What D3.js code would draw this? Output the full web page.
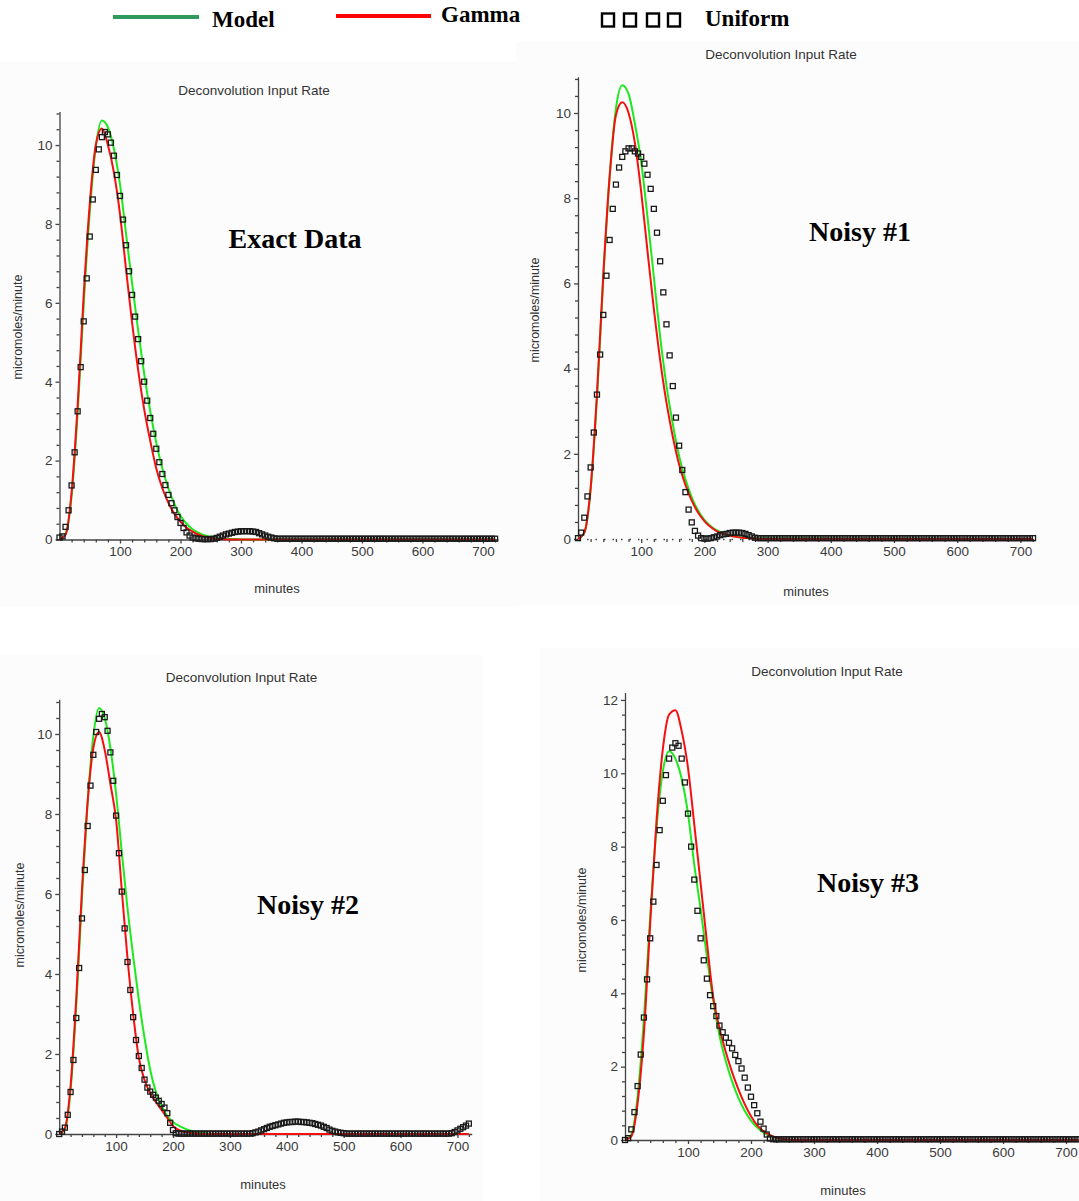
<!DOCTYPE html>
<html>
<head>
<meta charset="utf-8">
<script src="https://cdn.jsdelivr.net/npm/d3@7"></script>
<style>
  body { margin: 0; background: #fff; }
  .axis path, .axis line { stroke: #444; stroke-width: 1.3; }
  .axis text { font-family: "Liberation Sans", Arial, sans-serif; font-size: 13.5px; fill: #3a3a3a; }
  .title, .xlabel, .ylabel { font-family: "Liberation Sans", Arial, sans-serif; fill: #333; }
  .note, .legend text { font-family: "Liberation Serif", "Times New Roman", serif; font-weight: bold; fill: #000; }
</style>
</head>
<body>
<svg id="chart" width="1079" height="1201"></svg>
<script>
(function (d3) {
    'use strict';

    var lineMinutes = [0, 10, 20, 30, 40, 50, 60, 70, 80, 90, 100, 110, 120, 130, 140, 150,
        160, 170, 180, 190, 200, 210, 220, 230, 240, 250, 260, 270, 280, 290, 300, 720];

    // Uniform estimate is sampled every 5 minutes, 0..720.
    var uniformMinutes = d3.range(0, 721, 5);

    var xTickValues = [100, 200, 300, 400, 500, 600, 700];
    var yTicks10 = [0, 2, 4, 6, 8, 10];
    var yTicks12 = [0, 2, 4, 6, 8, 10, 12];

    // Exact data
    var exactModel = [0, 0.15, 1.1, 3.2, 5.95, 8.3, 9.95, 10.62, 10.45, 9.9, 9.0, 7.75, 6.5, 5.3, 4.2, 3.25,
        2.45, 1.8, 1.3, 0.9, 0.6, 0.4, 0.26, 0.17, 0.11, 0.07, 0.04, 0.02, 0.01, 0.01, 0, 0];
    var exactGamma = [0, 0.12, 1.2, 3.4, 6.2, 8.5, 10.0, 10.42, 10.0, 9.3, 8.25, 6.85, 5.5, 4.3, 3.3, 2.5,
        1.8, 1.3, 0.93, 0.65, 0.45, 0.3, 0.2, 0.12, 0.07, 0.04, 0.02, 0.01, 0, 0, 0, 0];
    var exactUniform = [
        0.05, 0.08, 0.32, 0.74, 1.37, 2.21, 3.25, 4.37, 5.53, 6.62, 7.68, 8.62,
        9.37, 9.89, 10.2, 10.33, 10.27, 10.06, 9.73, 9.24, 8.71, 8.11, 7.46, 6.8,
        6.2, 5.65, 5.08, 4.52, 4.0, 3.52, 3.08, 2.68, 2.3, 1.96, 1.66, 1.38,
        1.13, 0.92, 0.74, 0.57, 0.42, 0.29, 0.18, 0.1, 0.05, 0.03, 0.02, 0.01,
        0.01, 0.01, 0.01, 0.02, 0.04, 0.07, 0.1, 0.13, 0.15, 0.17, 0.19, 0.2,
        0.21, 0.21, 0.21, 0.21, 0.2, 0.19, 0.16, 0.13, 0.1, 0.07, 0.05, 0.03,
        0.02, 0.02, 0.02, 0.02, 0.02, 0.02, 0.02, 0.02, 0.02, 0.02, 0.02, 0.02,
        0.02, 0.02, 0.02, 0.02, 0.02, 0.02, 0.02, 0.02, 0.02, 0.02, 0.02, 0.02,
        0.02, 0.02, 0.02, 0.02, 0.02, 0.02, 0.02, 0.02, 0.02, 0.02, 0.02, 0.02,
        0.02, 0.02, 0.02, 0.02, 0.02, 0.02, 0.02, 0.02, 0.02, 0.02, 0.02, 0.02,
        0.02, 0.02, 0.02, 0.02, 0.02, 0.02, 0.02, 0.02, 0.02, 0.02, 0.02, 0.02,
        0.02, 0.02, 0.02, 0.02, 0.02, 0.02, 0.02, 0.02, 0.02, 0.02, 0.02, 0.02,
        0.02];

    // Noisy #1
    var noisy1Model = [0, 0.15, 1.15, 3.3, 6.1, 8.5, 10.1, 10.65, 10.45, 9.75, 8.85, 7.55, 6.15, 4.75, 3.6, 2.7,
        1.95, 1.4, 0.98, 0.67, 0.45, 0.3, 0.2, 0.13, 0.09, 0.06, 0.04, 0.03, 0.02, 0.01, 0.01, 0];
    var noisy1Gamma = [0, 0.15, 1.2, 3.4, 6.2, 8.5, 9.95, 10.25, 10.0, 9.3, 8.15, 6.75, 5.4, 4.2, 3.2, 2.4,
        1.75, 1.27, 0.9, 0.62, 0.42, 0.28, 0.18, 0.12, 0.08, 0.05, 0.03, 0.02, 0.01, 0, 0, 0];
    var noisy1Uniform = [
        0.02, 0.15, 0.5, 1.0, 1.68, 2.5, 3.39, 4.33, 5.26, 6.18, 7.02, 7.75,
        8.32, 8.72, 8.97, 9.1, 9.17, 9.17, 9.1, 9.05, 8.97, 8.81, 8.55, 8.22,
        7.75, 7.19, 6.52, 5.79, 5.04, 4.31, 3.59, 2.85, 2.19, 1.62, 1.1, 0.69,
        0.39, 0.19, 0.08, 0.02, 0.01, 0.01, 0.02, 0.04, 0.06, 0.09, 0.11, 0.12,
        0.14, 0.15, 0.15, 0.15, 0.14, 0.12, 0.09, 0.06, 0.03, 0.02, 0.02, 0.02,
        0.02, 0.02, 0.02, 0.02, 0.02, 0.02, 0.02, 0.02, 0.02, 0.02, 0.02, 0.02,
        0.02, 0.02, 0.02, 0.02, 0.02, 0.02, 0.02, 0.02, 0.02, 0.02, 0.02, 0.02,
        0.02, 0.02, 0.02, 0.02, 0.02, 0.02, 0.02, 0.02, 0.02, 0.02, 0.02, 0.02,
        0.02, 0.02, 0.02, 0.02, 0.02, 0.02, 0.02, 0.02, 0.02, 0.02, 0.02, 0.02,
        0.02, 0.02, 0.02, 0.02, 0.02, 0.02, 0.02, 0.02, 0.02, 0.02, 0.02, 0.02,
        0.02, 0.02, 0.02, 0.02, 0.02, 0.02, 0.02, 0.02, 0.02, 0.02, 0.02, 0.02,
        0.02, 0.02, 0.02, 0.02, 0.02, 0.02, 0.02, 0.02, 0.02, 0.02, 0.02, 0.02,
        0.02];

    // Noisy #2
    var noisy2Model = [0, 0.12, 1.1, 3.2, 5.9, 8.3, 9.95, 10.65, 10.4, 9.65, 8.5, 7.05, 5.65, 4.45, 3.35, 2.4,
        1.6, 1.05, 0.7, 0.45, 0.3, 0.21, 0.14, 0.09, 0.05, 0.03, 0.01, 0, 0, 0, 0, 0];
    var noisy2Gamma = [0, 0.15, 1.2, 3.4, 6.1, 8.3, 9.65, 10.05, 9.6, 8.75, 7.85, 6.1, 4.4, 3.0, 1.9, 1.35,
        1.02, 0.8, 0.6, 0.4, 0.2, 0.1, 0.05, 0.03, 0.01, 0, 0, 0, 0, 0, 0, 0];
    var noisy2Uniform = [
        0.0, 0.06, 0.16, 0.48, 1.05, 1.85, 2.9, 4.15, 5.39, 6.6, 7.7, 8.71,
        9.48, 10.05, 10.38, 10.5, 10.42, 10.08, 9.54, 8.83, 7.96, 7.02, 6.06, 5.14,
        4.3, 3.6, 2.92, 2.35, 1.95, 1.65, 1.36, 1.16, 1.06, 0.98, 0.91, 0.83,
        0.75, 0.66, 0.52, 0.28, 0.1, 0.02, 0.01, 0.01, 0.01, 0.01, 0.01, 0.01,
        0.01, 0.01, 0.01, 0.01, 0.01, 0.01, 0.01, 0.01, 0.01, 0.01, 0.01, 0.01,
        0.01, 0.01, 0.01, 0.01, 0.01, 0.01, 0.01, 0.01, 0.02, 0.04, 0.06, 0.09,
        0.12, 0.15, 0.18, 0.2, 0.22, 0.24, 0.26, 0.28, 0.29, 0.3, 0.3, 0.31,
        0.31, 0.3, 0.3, 0.29, 0.28, 0.27, 0.25, 0.23, 0.21, 0.18, 0.15, 0.11,
        0.08, 0.06, 0.04, 0.03, 0.02, 0.01, 0.01, 0.01, 0.01, 0.01, 0.01, 0.01,
        0.01, 0.01, 0.01, 0.01, 0.01, 0.01, 0.01, 0.01, 0.01, 0.01, 0.01, 0.01,
        0.01, 0.01, 0.01, 0.01, 0.01, 0.01, 0.01, 0.01, 0.01, 0.01, 0.01, 0.01,
        0.01, 0.01, 0.01, 0.01, 0.01, 0.01, 0.02, 0.05, 0.09, 0.13, 0.17, 0.21,
        0.26];

    // Noisy #3
    var noisy3Model = [0, 0.15, 1.2, 3.3, 6.1, 8.5, 10.05, 10.6, 10.4, 9.85, 8.9, 7.5, 6.3, 5.0, 3.8, 2.85,
        2.15, 1.6, 1.15, 0.8, 0.53, 0.34, 0.2, 0.12, 0.06, 0.03, 0.01, 0, 0, 0, 0, 0];
    var noisy3Gamma = [0, 0.1, 1.0, 2.9, 5.9, 8.7, 10.65, 11.6, 11.72, 11.15, 10.15, 8.6, 7.0, 5.4, 3.9, 3.05,
        2.4, 1.85, 1.38, 0.98, 0.65, 0.4, 0.24, 0.14, 0.07, 0.03, 0.01, 0, 0, 0, 0, 0];
    var noisy3Uniform = [
        0.0, 0.05, 0.29, 0.76, 1.47, 2.33, 3.34, 4.38, 5.5, 6.5, 7.5, 8.45,
        9.25, 9.95, 10.4, 10.7, 10.82, 10.75, 10.4, 9.75, 8.9, 8.0, 7.1, 6.25,
        5.5, 4.9, 4.4, 3.95, 3.65, 3.38, 3.12, 2.94, 2.79, 2.65, 2.5, 2.32,
        2.15, 1.95, 1.7, 1.43, 1.18, 0.95, 0.73, 0.5, 0.31, 0.15, 0.04, 0.02,
        0.02, 0.02, 0.02, 0.02, 0.02, 0.02, 0.02, 0.02, 0.02, 0.02, 0.02, 0.02,
        0.02, 0.02, 0.02, 0.02, 0.02, 0.02, 0.02, 0.02, 0.02, 0.02, 0.02, 0.02,
        0.02, 0.02, 0.02, 0.02, 0.02, 0.02, 0.02, 0.02, 0.02, 0.02, 0.02, 0.02,
        0.02, 0.02, 0.02, 0.02, 0.02, 0.02, 0.02, 0.02, 0.02, 0.02, 0.02, 0.02,
        0.02, 0.02, 0.02, 0.02, 0.02, 0.02, 0.02, 0.02, 0.02, 0.02, 0.02, 0.02,
        0.02, 0.02, 0.02, 0.02, 0.02, 0.02, 0.02, 0.02, 0.02, 0.02, 0.02, 0.02,
        0.02, 0.02, 0.02, 0.02, 0.02, 0.02, 0.02, 0.02, 0.02, 0.02, 0.02, 0.02,
        0.02, 0.02, 0.02, 0.02, 0.02, 0.02, 0.02, 0.02, 0.02, 0.02, 0.02, 0.02,
        0.02];

    // Layout of the four panels (pixel positions of the plot area).
    var panels = [
        {note: 'Exact Data', model: exactModel, gamma: exactGamma, uniform: exactUniform, yTicks: yTicks10,
         left: 59.5, bottom: 539.5, width: 438.6, height: 428, xMax: 725, yMax: 10.85,
         bg: [0, 62, 518, 545], title: [254, 90], xLabel: [277, 588], yLabel: [18, 327], notePos: [295, 238]},
        {note: 'Noisy #1', model: noisy1Model, gamma: noisy1Gamma, uniform: noisy1Uniform, yTicks: yTicks10,
         left: 578, bottom: 539, width: 458.2, height: 462.2, xMax: 725, yMax: 10.85, dotted: true,
         bg: [516, 42, 563, 563], title: [781, 54], xLabel: [806, 591], yLabel: [535, 310], notePos: [860, 231]},
        {note: 'Noisy #2', model: noisy2Model, gamma: noisy2Gamma, uniform: noisy2Uniform, yTicks: yTicks10,
         left: 59.2, bottom: 1134, width: 412.5, height: 434.8, xMax: 725, yMax: 10.87,
         bg: [0, 655, 482, 546], title: [241.5, 677], xLabel: [263, 1184], yLabel: [20, 915], notePos: [308, 904]},
        {note: 'Noisy #3', model: noisy3Model, gamma: noisy3Gamma, uniform: noisy3Uniform, yTicks: yTicks12,
         left: 625, bottom: 1140, width: 453.6, height: 447.4, xMax: 720, yMax: 12.2,
         bg: [540, 648, 539, 553], title: [827, 671], xLabel: [843, 1190], yLabel: [582, 920], notePos: [868, 882]}
    ];

    var svg = d3.select('#chart');

    panels.forEach(drawPanel);
    drawLegend();

    function drawPanel(p) {
        var x = d3.scaleLinear().domain([0, p.xMax]).range([p.left, p.left + p.width]);
        var y = d3.scaleLinear().domain([0, p.yMax]).range([p.bottom, p.bottom - p.height]);

        var g = svg.append('g');

        // faint panel background of the screenshot
        g.append('rect')
            .attr('x', p.bg[0]).attr('y', p.bg[1])
            .attr('width', p.bg[2]).attr('height', p.bg[3])
            .attr('fill', '#fcfcfc');

        g.append('text')
            .attr('class', 'title')
            .attr('x', p.title[0]).attr('y', p.title[1])
            .attr('dy', '0.35em')
            .attr('text-anchor', 'middle')
            .style('font-size', '13.5px')
            .text('Deconvolution Input Rate');

        // Minor ticks first, then the labelled axes over them.
        var xMinor = d3.range(20, p.xMax, 20).filter(function (v) { return v % 100 !== 0; });
        var yMinor = d3.range(0.4, p.yMax, 0.4).filter(function (v) {
            return Math.abs(v / 2 - Math.round(v / 2)) > 0.01;
        });

        g.append('g')
            .attr('class', 'axis')
            .attr('transform', 'translate(0,' + p.bottom + ')')
            .call(d3.axisBottom(x).tickValues(xMinor).tickSize(3).tickFormat(''))
            .select('.domain').remove();

        g.append('g')
            .attr('class', 'axis')
            .attr('transform', 'translate(' + p.left + ',0)')
            .call(d3.axisLeft(y).tickValues(yMinor).tickSize(3).tickFormat(''))
            .select('.domain').remove();

        var xAxis = g.append('g')
            .attr('class', 'axis')
            .attr('transform', 'translate(0,' + p.bottom + ')')
            .call(d3.axisBottom(x).tickValues(xTickValues).tickSize(4).tickSizeOuter(0).tickPadding(3));

        if (p.dotted) {
            xAxis.select('.domain').attr('stroke-dasharray', '1.5,7');
        }

        g.append('g')
            .attr('class', 'axis')
            .attr('transform', 'translate(' + p.left + ',0)')
            .call(d3.axisLeft(y).tickValues(p.yTicks).tickSize(4).tickSizeOuter(0).tickPadding(3));

        g.append('text')
            .attr('class', 'xlabel')
            .attr('x', p.xLabel[0]).attr('y', p.xLabel[1])
            .attr('dy', '0.35em')
            .attr('text-anchor', 'middle')
            .style('font-size', '13px')
            .text('minutes');

        g.append('text')
            .attr('class', 'ylabel')
            .attr('transform', 'translate(' + p.yLabel[0] + ',' + p.yLabel[1] + ') rotate(-90)')
            .attr('dy', '0.35em')
            .attr('text-anchor', 'middle')
            .style('font-size', '12.5px')
            .text('micromoles/minute');

        var line = d3.line()
            .x(function (d) { return x(d[0]); })
            .y(function (d) { return y(d[1]); })
            .curve(d3.curveMonotoneX);

        g.append('path')
            .datum(d3.zip(lineMinutes, p.model))
            .attr('fill', 'none')
            .attr('stroke', '#1ee81e')
            .attr('stroke-width', 2)
            .attr('d', line);

        g.append('path')
            .datum(d3.zip(lineMinutes, p.gamma))
            .attr('fill', 'none')
            .attr('stroke', '#f41010')
            .attr('stroke-width', 2)
            .attr('d', line);

        g.append('g')
            .selectAll('rect')
            .data(d3.zip(uniformMinutes, p.uniform))
            .join('rect')
            .attr('x', function (d) { return x(d[0]) - 2.5; })
            .attr('y', function (d) { return y(d[1]) - 2.5; })
            .attr('width', 5)
            .attr('height', 5)
            .attr('fill', 'none')
            .attr('stroke', '#1a1a1a')
            .attr('stroke-width', 1.3);

        g.append('text')
            .attr('class', 'note')
            .attr('x', p.notePos[0]).attr('y', p.notePos[1])
            .attr('dy', '0.35em')
            .attr('text-anchor', 'middle')
            .style('font-size', '28px')
            .text(p.note);
    }

    function drawLegend() {
        var lg = svg.append('g').attr('class', 'legend');

        lg.append('line')
            .attr('x1', 113).attr('x2', 199).attr('y1', 17).attr('y2', 17)
            .attr('stroke', '#2e9a5c').attr('stroke-width', 4);
        lg.append('text').attr('x', 212).attr('y', 27).style('font-size', '23px').text('Model');

        lg.append('line')
            .attr('x1', 336).attr('x2', 431).attr('y1', 16).attr('y2', 16)
            .attr('stroke', '#ff0000').attr('stroke-width', 4);
        lg.append('text').attr('x', 441).attr('y', 22).style('font-size', '23px').text('Gamma');

        lg.selectAll('rect')
            .data([602, 624, 647, 668])
            .join('rect')
            .attr('x', function (d) { return d; })
            .attr('y', 13.5)
            .attr('width', 12)
            .attr('height', 13)
            .attr('fill', 'none')
            .attr('stroke', '#000')
            .attr('stroke-width', 2.4);
        lg.append('text').attr('x', 705).attr('y', 26).style('font-size', '23px').text('Uniform');
    }

})(d3);
</script>
</body>
</html>
